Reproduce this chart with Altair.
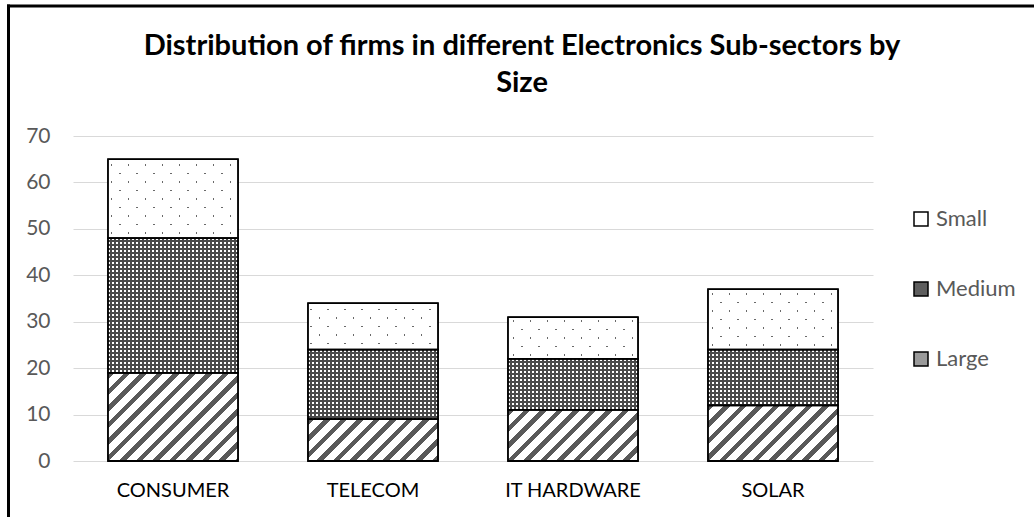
import altair as alt
import pandas as pd

# ---------------- data ----------------
categories = ["CONSUMER", "TELECOM", "IT HARDWARE", "SOLAR"]
sizes = ["Small", "Medium", "Large"]
large_vals = [19, 9, 11, 12]
medium_vals = [29, 15, 11, 12]
small_vals = [17, 10, 9, 13]
y_ticks = [0, 10, 20, 30, 40, 50, 60, 70]
title_lines = ["Distribution of firms in different Electronics Sub-sectors by", "Size"]

series = {"Large": large_vals, "Medium": medium_vals, "Small": small_vals}
stack_order = ["Large", "Medium", "Small"]
df = pd.DataFrame(
    [{"category": c, "size": s, "value": series[s][i]}
     for s in stack_order for i, c in enumerate(categories)]
)

# ---------------- layout / style ----------------
FONT = "Lato"
W, H = 800, 325
PAD = {"left": 73, "top": 136, "right": 161, "bottom": 56}
Y_MAX = 70
STEP = W / len(categories)
PAD_INNER = 0.35
PAD_OUTER = 0.175
BAR_W = STEP * (1 - PAD_INNER)
PX_PER_UNIT = H / Y_MAX
CLEAR = "rgba(255,255,255,0)"


def band_stops(total, period, start, width, on, off):
    stops = [{"offset": 0, "color": off}]
    k = 0
    while k * period + start < total:
        a = round((k * period + start) / total, 5)
        b = round(min(1.0, (k * period + start + width) / total), 5)
        stops += [{"offset": a, "color": off}, {"offset": a, "color": on},
                  {"offset": b, "color": on}, {"offset": b, "color": off}]
        k += 1
    stops.append({"offset": 1, "color": off})
    return stops


def diag(w, h, period, start, width, on, off, rising=True):
    r = h / w
    k = (1 + r) / (1 + r * r)
    stops = band_stops(w + h, period, start, width, on, off)
    if rising:
        return {"gradient": "linear", "x1": 0, "y1": 0, "x2": k, "y2": k * r, "stops": stops}
    return {"gradient": "linear", "x1": 0, "y1": 1, "x2": k, "y2": 1 - k * r, "stops": stops}


def ortho(length, period, start, width, on, off, vertical):
    stops = band_stops(length, period, start, width, on, off)
    if vertical:
        return {"gradient": "linear", "x1": 0, "y1": 0, "x2": 0, "y2": 1, "stops": stops}
    return {"gradient": "linear", "x1": 0, "y1": 0, "x2": 1, "y2": 0, "stops": stops}


x_enc = alt.X(
    "category:N", sort=categories, title=None,
    scale=alt.Scale(paddingInner=PAD_INNER, paddingOuter=PAD_OUTER),
    axis=alt.Axis(domain=False, ticks=False, labelAngle=0, labelFont=FONT,
                  labelFontSize=20, labelColor="#000000", labelPadding=19),
)
y_enc = alt.Y(
    "y0:Q", title=None, scale=alt.Scale(domain=[0, Y_MAX], nice=False),
    axis=alt.Axis(values=y_ticks, domain=False, ticks=False, labelFont=FONT,
                  labelFontSize=21, labelColor="#595959", labelPadding=23,
                  grid=True, gridColor="#d9d9d9", gridWidth=1.2),
)
y2_enc = alt.Y2("y1:Q")

base = alt.Chart(df).transform_calculate(
    order="indexof(['Large','Medium','Small'], datum.size)"
).transform_stack(
    stack="value", groupby=["category"], as_=["y0", "y1"],
    sort=[alt.SortField("order", order="ascending")],
)


def seg(cat, size):
    return base.transform_filter((alt.datum.category == cat) & (alt.datum.size == size))


def size_only(size):
    return base.transform_filter(alt.datum.size == size)


layers = []

# base layer carrying the legend
layers.append(
    base.mark_bar(stroke="black", strokeWidth=1).encode(
        x=x_enc, y=y_enc, y2=y2_enc,
        color=alt.Color(
            "size:N",
            scale=alt.Scale(domain=sizes, range=["#ffffff", "#5e5e5e", "#9a9a9a"]),
            legend=alt.Legend(
                title=None, orient="none", legendX=837, legendY=72, direction="vertical",
                symbolType="square", symbolSize=196, symbolStrokeColor="black",
                symbolStrokeWidth=1.5, labelFont=FONT, labelFontSize=22,
                labelColor="#595959", rowPadding=48, padding=0, labelOffset=4,
            ),
        ),
    )
)

# Large: diagonal stripes
for i, c in enumerate(categories):
    h = large_vals[i] * PX_PER_UNIT
    g = diag(BAR_W, h, 16.5, 0, 6.5, "#595959", "#ffffff", rising=True)
    layers.append(seg(c, "Large").mark_bar(fill=g).encode(x=x_enc, y=y_enc, y2=y2_enc))

# Medium: fine checker grid
layers.append(size_only("Medium").mark_bar(fill="#ffffff").encode(x=x_enc, y=y_enc, y2=y2_enc))
for i, c in enumerate(categories):
    h = medium_vals[i] * PX_PER_UNIT
    g1 = ortho(h, 4, 0, 2, CLEAR, "#4a4a4a", vertical=True)
    g2 = ortho(BAR_W, 4, 0, 2, CLEAR, "#4a4a4a", vertical=False)
    layers.append(seg(c, "Medium").mark_bar(fill=g1).encode(x=x_enc, y=y_enc, y2=y2_enc))
    layers.append(seg(c, "Medium").mark_bar(fill=g2).encode(x=x_enc, y=y_enc, y2=y2_enc))

# Small: sparse staggered dots
layers.append(size_only("Small").mark_bar(fill="#6a6a6a").encode(x=x_enc, y=y_enc, y2=y2_enc))
for i, c in enumerate(categories):
    h = small_vals[i] * PX_PER_UNIT
    g1 = diag(BAR_W, h, 17, 8, 2, CLEAR, "#ffffff", rising=True)
    g2 = diag(BAR_W, h, 17, 8, 2, CLEAR, "#ffffff", rising=False)
    layers.append(seg(c, "Small").mark_bar(fill=g1).encode(x=x_enc, y=y_enc, y2=y2_enc))
    layers.append(seg(c, "Small").mark_bar(fill=g2).encode(x=x_enc, y=y_enc, y2=y2_enc))

# outlines
layers.append(
    base.mark_bar(fill="#ffffff", fillOpacity=0, stroke="black", strokeWidth=1.8).encode(
        x=x_enc, y=y_enc, y2=y2_enc)
)

# outer frame (left and top edges)
frame = alt.Data(values=[{"k": 1}])
layers.append(
    alt.Chart(frame).mark_rule(color="black", strokeWidth=3).encode(
        x=alt.value(-64.5), y=alt.value(-131.5), y2=alt.value(381))
)
layers.append(
    alt.Chart(frame).mark_rule(color="black", strokeWidth=3).encode(
        x=alt.value(-66), x2=alt.value(961), y=alt.value(-130))
)

chart = alt.layer(*layers).properties(
    width=W, height=H, padding=PAD,
    autosize=alt.AutoSizeParams(type="none"),
    background="white",
    title=alt.TitleParams(
        text=title_lines, font=FONT, fontSize=29, fontWeight="bold", color="#000000",
        anchor="middle", frame="group", dx=49, offset=-95, lineHeight=37,
    ),
).configure_view(strokeWidth=0)

chart.save("out.html", embed_options={"renderer": "svg", "actions": False})
